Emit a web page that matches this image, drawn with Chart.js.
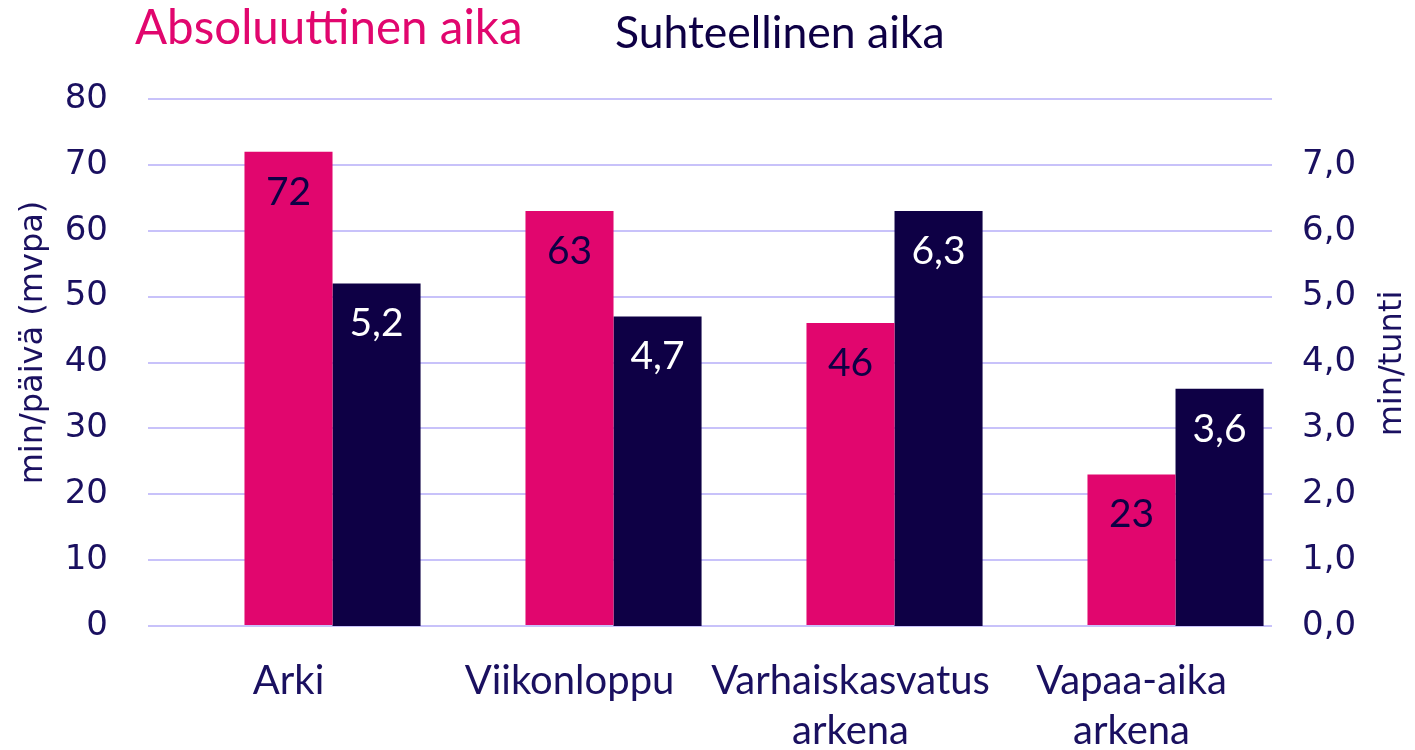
<!DOCTYPE html>
<html><head><meta charset="utf-8">
<script src="https://cdn.jsdelivr.net/npm/chart.js@4.4.1/dist/chart.umd.min.js"></script>
<style>html,body{margin:0;padding:0;background:#fff;}#wrap{width:1415px;height:750px;position:relative;}</style>
</head><body><div id="wrap"><canvas id="c" width="1415" height="750"></canvas></div>
<script>
const categories = [['Arki'], ['Viikonloppu'], ['Varhaiskasvatus', 'arkena'], ['Vapaa-aika', 'arkena']];
const absoluteLabel = 'Absoluuttinen aika';
const relativeLabel = 'Suhteellinen aika';
const absoluteValues = [72, 63, 46, 23];
const relativeValues = [5.2, 4.7, 6.3, 3.6];
const leftTitle = 'min/päivä (mvpa)';
const rightTitle = 'min/tunti';

const PINK = '#E1066E';
const NAVY = '#0E0045';
const TEXT = '#1A1060';
const GRID = '#C8C2FA';
const CAL = 'Lato, "Open Sans", sans-serif';
const VER = '"DejaVu Sans", Verdana, sans-serif';

const fmt = v => v.toFixed(1).replace('.', ',');

const labelPlugin = {
  id: 'valueLabels',
  afterDatasetsDraw(chart) {
    const ctx = chart.ctx;
    ctx.save();
    ctx.textAlign = 'center';
    ctx.textBaseline = 'alphabetic';
    ctx.font = '39px ' + CAL;
    chart.data.datasets.forEach((ds, di) => {
      if (!ds.showValue) return;
      const meta = chart.getDatasetMeta(di);
      meta.data.forEach((el, i) => {
        const v = ds.data[i];
        if (v == null) return;
        ctx.fillStyle = ds.valueColor;
        ctx.fillText(ds.valueFormat(v), el.x, el.y + 53);
      });
    });
    ctx.restore();
  }
};

const textPlugin = {
  id: 'textLegend',
  afterDraw(chart) {
    const ctx = chart.ctx;
    ctx.save();
    ctx.textBaseline = 'alphabetic';
    ctx.textAlign = 'left';
    ctx.font = '47.5px ' + CAL;
    ctx.fillStyle = PINK;
    ctx.fillText(absoluteLabel, 135, 44);
    ctx.font = '44.5px ' + CAL;
    ctx.fillStyle = NAVY;
    ctx.fillText(relativeLabel, 615, 48);
    ctx.restore();

    const a = chart.chartArea;
    const mid = (a.top + a.bottom) / 2;
    // axis titles, both reading bottom-to-top
    [[leftTitle, 34, mid - 20, 32], [rightTitle, 1393, mid + 1, 32]].forEach(([t, x, y, size]) => {
      ctx.save();
      ctx.font = size + 'px ' + VER;
      ctx.fillStyle = TEXT;
      ctx.textAlign = 'center';
      ctx.textBaseline = 'middle';
      ctx.translate(x, y);
      ctx.rotate(-Math.PI / 2);
      ctx.fillText(t, 0, 0);
      ctx.restore();
    });
  }
};

new Chart(document.getElementById('c'), {
  type: 'bar',
  data: {
    labels: categories,
    datasets: [
      { label: '', data: absoluteValues.map(() => null), yAxisID: 'y', backgroundColor: 'rgba(0,0,0,0)' },
      { label: absoluteLabel, data: absoluteValues, yAxisID: 'y', backgroundColor: PINK,
        showValue: true, valueColor: NAVY, valueFormat: v => String(v) },
      { label: relativeLabel, data: relativeValues, yAxisID: 'y1', backgroundColor: NAVY,
        showValue: true, valueColor: '#FFFFFF', valueFormat: fmt }
    ]
  },
  options: {
    responsive: false,
    animation: false,
    datasets: { bar: { categoryPercentage: 0.94, barPercentage: 1.0 } },
    layout: { padding: { top: 99, left: 0, right: 0, bottom: 0 } },
    plugins: { legend: { display: false }, tooltip: { enabled: false } },
    scales: {
      x: {
        grid: { display: false, drawTicks: false },
        border: { display: false },
        ticks: { color: TEXT, font: { family: CAL, size: 40, lineHeight: 1.25 }, padding: 30, maxRotation: 0, autoSkip: false },
        afterFit: s => { s.height = 124; }
      },
      y: {
        position: 'left', min: 0, max: 80,
        ticks: { stepSize: 10, color: TEXT, font: { family: VER, size: 34 }, padding: 40 },
        grid: { color: GRID, lineWidth: 2, drawTicks: false },
        border: { display: false },
        afterFit: s => { s.width = 148; }
      },
      y1: {
        position: 'right', min: 0, max: 8,
        ticks: { stepSize: 1, color: TEXT, font: { family: VER, size: 34 }, padding: 30,
                 callback: v => v >= 8 ? '' : fmt(v) },
        grid: { display: false, drawTicks: false },
        border: { display: false },
        afterFit: s => { s.width = 143; }
      }
    }
  },
  plugins: [labelPlugin, textPlugin]
});
</script></body></html>
